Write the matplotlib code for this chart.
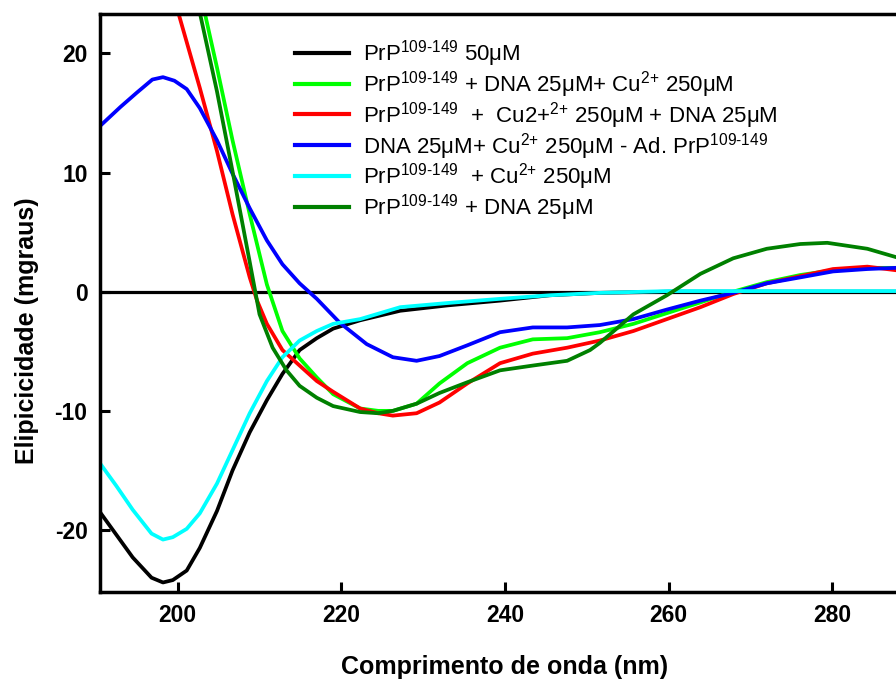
import matplotlib
matplotlib.use('Agg')
import matplotlib.pyplot as plt

plt.rcParams.update({
    'font.family': ['Liberation Sans', 'DejaVu Sans'],
    'mathtext.fontset': 'custom',
    'mathtext.rm': 'Liberation Sans',
    'mathtext.it': 'Liberation Sans:italic',
    'mathtext.bf': 'Liberation Sans:bold',
    'axes.unicode_minus': False,
})

# CD spectra (wavelength nm, ellipticity mdeg)
wl_black = [190.5, 192.5, 194.5, 196.8, 198.2, 199.4, 201.1, 202.7, 204.8, 206.7, 208.8,
            210.9, 212.8, 214.9, 217.0, 219.0, 222.3, 227.2, 233.0, 239.4, 245.5, 251.6, 260, 270, 280, 290]
y_black = [-18.5, -20.4, -22.3, -24.0, -24.4, -24.2, -23.4, -21.5, -18.4, -15.0, -11.8,
           -9.1, -6.9, -4.9, -3.9, -3.1, -2.4, -1.6, -1.15, -0.75, -0.3, -0.1, 0.0, 0.0, 0.0, 0.0]

wl_cyan = [190.5, 192.5, 194.5, 196.8, 198.2, 199.4, 201.1, 202.7, 204.8, 206.7, 208.8,
           210.9, 212.8, 214.9, 217.0, 219.0, 222.3, 227.2, 233.0, 239.4, 245.5, 251.6, 260, 270, 280, 290]
y_cyan = [-14.4, -16.3, -18.3, -20.3, -20.8, -20.6, -19.9, -18.6, -16.1, -13.3, -10.2,
          -7.5, -5.5, -4.1, -3.3, -2.7, -2.3, -1.3, -0.95, -0.6, -0.3, -0.1, 0.05, 0.05, 0.05, 0.05]

wl_blue = [190.5, 193.0, 195.0, 196.9, 198.2, 199.6, 201.1, 202.7, 204.8, 206.7, 208.8,
           210.9, 212.8, 214.9, 217.0, 219.8, 223.1, 226.3, 229.2, 232.0, 235.4, 239.4,
           243.4, 247.6, 251.6, 255.7, 259.8, 263.9, 267.9, 272.0, 276.1, 280.1, 284.3, 287.8, 290]
y_blue = [13.9, 15.5, 16.7, 17.8, 18.0, 17.7, 17.0, 15.4, 12.7, 9.9, 7.0,
          4.3, 2.3, 0.7, -0.6, -2.6, -4.4, -5.5, -5.8, -5.4, -4.5, -3.4,
          -3.0, -3.0, -2.8, -2.3, -1.5, -0.75, -0.1, 0.7, 1.2, 1.7, 1.9, 2.0, 2.0]

wl_red = [199.0, 200.2, 202.7, 204.8, 206.7, 208.8, 209.7, 210.9, 212.8, 214.9, 217.0,
          219.0, 222.3, 224.5, 226.3, 229.2, 232.0, 235.4, 239.4, 243.4, 247.6, 251.6,
          255.7, 259.8, 263.9, 267.9, 272.0, 276.1, 280.1, 284.3, 287.8, 290]
y_red = [26.0, 23.1, 17.1, 11.8, 6.5, 1.2, -0.75, -2.7, -4.9, -6.2, -7.5,
         -8.4, -9.8, -10.2, -10.4, -10.2, -9.3, -7.7, -6.0, -5.2, -4.7, -4.1,
         -3.3, -2.3, -1.3, -0.2, 0.7, 1.3, 1.9, 2.1, 1.8, 1.7]

wl_lime = [202.5, 203.4, 204.8, 206.7, 208.8, 210.9, 212.8, 214.9, 217.0, 219.0, 222.3,
           224.5, 226.3, 229.2, 232.0, 235.4, 239.4, 243.4, 247.6, 251.6, 255.7, 259.8,
           263.9, 267.9, 272.0, 276.1, 280.1, 284.3, 290]
y_lime = [26.0, 23.1, 18.8, 12.7, 6.5, 0.6, -3.3, -5.6, -7.2, -8.6, -9.8,
          -10.0, -10.0, -9.4, -7.7, -6.0, -4.7, -4.0, -3.9, -3.4, -2.7, -1.8,
          -0.9, 0.0, 0.8, 1.4, 1.8, 2.0, 2.0]

wl_dgreen = [202.0, 202.8, 204.8, 206.7, 208.8, 210.0, 211.6, 213.3, 214.9, 217.0, 219.0,
             222.3, 224.5, 226.3, 229.2, 232.0, 235.4, 239.4, 243.4, 247.6, 250.4, 251.6,
             255.7, 259.8, 263.9, 267.9, 272.0, 276.1, 279.4, 284.3, 287.8, 290]
y_dgreen = [25.6, 23.1, 16.8, 10.1, 2.5, -1.9, -4.7, -6.6, -7.9, -8.9, -9.6,
            -10.1, -10.2, -10.0, -9.4, -8.5, -7.6, -6.6, -6.2, -5.8, -4.9, -4.3,
            -1.9, -0.3, 1.5, 2.8, 3.6, 4.0, 4.1, 3.6, 2.9, 2.5]

SUP = r'$^{\text{109-149}}$'
CU = r'$^{\text{2+}}$'
labels = [
    'PrP' + SUP + ' 50μM',
    'PrP' + SUP + ' + DNA 25μM+ Cu' + CU + ' 250μM',
    'PrP' + SUP + '  +  Cu2+' + CU + ' 250μM + DNA 25μM',
    'DNA 25μM+ Cu' + CU + ' 250μM - Ad. PrP' + SUP,
    'PrP' + SUP + '  + Cu' + CU + ' 250μM',
    'PrP' + SUP + ' + DNA 25μM',
]

fig = plt.figure(figsize=(8.96, 6.8), dpi=100)
ax = fig.add_axes([100 / 896, 88 / 680, 796 / 896, 578 / 680])

ax.axhline(0, color='black', linewidth=2.3, zorder=1)
lw = 2.7
ax.plot(wl_black, y_black, color='#000000', lw=lw, label=labels[0])
ax.plot(wl_lime, y_lime, color='#00FF00', lw=lw, label=labels[1])
ax.plot(wl_red, y_red, color='#FF0000', lw=lw, label=labels[2])
ax.plot(wl_blue, y_blue, color='#0000FF', lw=lw, label=labels[3])
ax.plot(wl_cyan, y_cyan, color='#00FFFF', lw=lw, label=labels[4])
ax.plot(wl_dgreen, y_dgreen, color='#008000', lw=lw, label=labels[5])

ax.set_xlim(190.5, 287.8)
ax.set_ylim(-25.2, 23.3)
ax.set_xticks([200, 220, 240, 260, 280])
ax.set_yticks([-20, -10, 0, 10, 20])

for s in ['left', 'bottom', 'top']:
    ax.spines[s].set_linewidth(2.5)
ax.spines['right'].set_visible(False)
ax.tick_params(direction='in', length=7, width=2.2, labelsize=16.5, pad=9)
for t in ax.get_xticklabels() + ax.get_yticklabels():
    t.set_fontweight('bold')

fig.text(505 / 896, 1 - 667 / 680, 'Comprimento de onda (nm)', ha='center', va='center',
         fontsize=18, fontweight='bold')
fig.text(27 / 896, 1 - 331 / 680, 'Elipicicidade (mgraus)', ha='center', va='center',
         rotation=90, fontsize=18, fontweight='bold')

leg = ax.legend(loc='upper left', bbox_to_anchor=(295 / 896, 1 - 38 / 680),
                bbox_transform=fig.transFigure, frameon=False, fontsize=16,
                handlelength=2.45, handletextpad=0.6, labelspacing=0.0,
                borderpad=0, borderaxespad=0)
for line in leg.get_lines():
    line.set_linewidth(3)

fig.savefig('out.png', dpi=100)
